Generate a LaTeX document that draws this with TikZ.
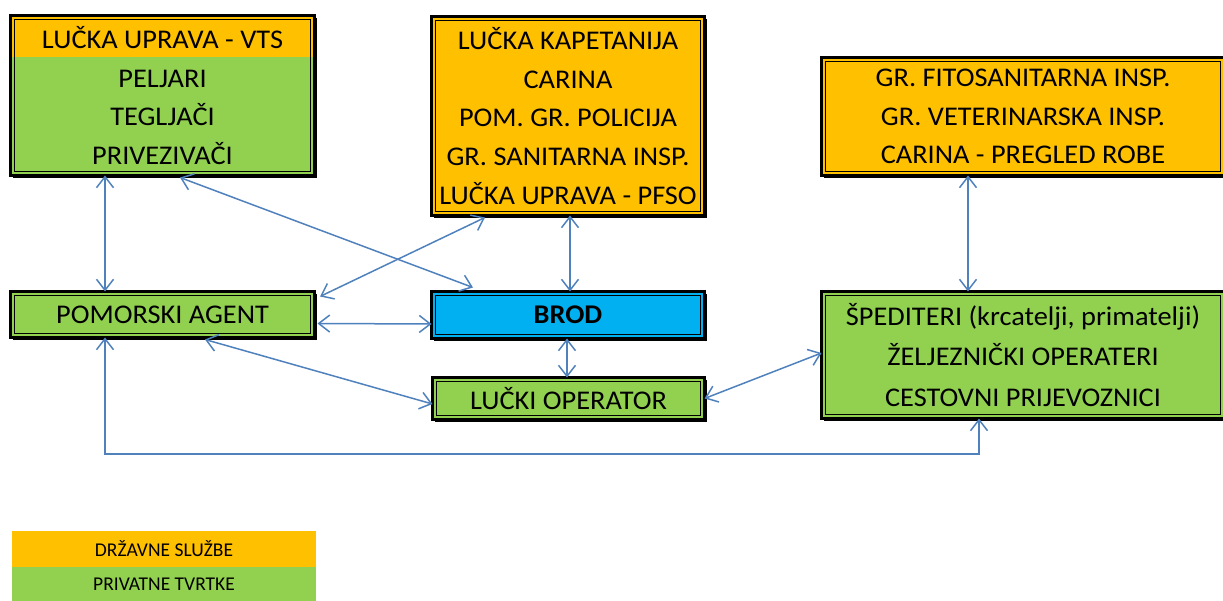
\documentclass[tikz,border=0pt]{standalone}
\usepackage{fontspec}
\setmainfont{Carlito}[FakeStretch=1.05]
\newfontfamily\legendfont{Carlito}
\usetikzlibrary{arrows.meta,shadows}
\definecolor{drzavna}{HTML}{FFC000}
\definecolor{privatna}{HTML}{92D050}
\definecolor{brodplava}{HTML}{00B0F0}
\definecolor{veza}{HTML}{4F81BD}
\begin{document}
\begin{tikzpicture}[x=1pt,y=-1pt,
  box/.style={draw=black, line width=3pt, inner sep=0pt, outer sep=0pt,
    align=center, font=\fontsize{27}{38.6}\selectfont,
    drop shadow={shadow xshift=2.5pt, shadow yshift=-2.5pt, fill=black, opacity=1},
    path picture={\draw[line width=1pt]
      ([shift={(4,4)}]path picture bounding box.north west) rectangle
      ([shift={(-4,-4)}]path picture bounding box.south east);}},
  boxtop/.style={box, path picture={
      \fill[drzavna] (path picture bounding box.north west) rectangle
      ([shift={(0,41.5)}]path picture bounding box.north east);
      \draw[line width=1pt]
      ([shift={(4,4)}]path picture bounding box.north west) rectangle
      ([shift={(-4,-4)}]path picture bounding box.south east);}},
  legend/.style={inner sep=0pt, outer sep=0pt, minimum width=304pt,
    font=\legendfont\fontsize{19.5}{22}\selectfont},
  conn/.style={draw=veza, line width=1.5pt,
    {Straight Barb[length=11pt,width=17pt]}-{Straight Barb[length=11pt,width=17pt]}}
]
\useasboundingbox (0,0) rectangle (1223,601);
\clip (0,0) rectangle (1223,601);

% port services and pilots
\node[boxtop, fill=privatna, minimum width=304pt, minimum height=160pt] (uprava) at (162.5,95.5)
  {LUČKA UPRAVA - VTS\\ PELJARI\\ TEGLJAČI\\ PRIVEZIVAČI};
\node[box, fill=drzavna, minimum width=273pt, minimum height=199pt] (kapetanija) at (568,116)
  {LUČKA KAPETANIJA\\ CARINA\\ POM. GR. POLICIJA\\ GR. SANITARNA INSP.\\ LUČKA UPRAVA - PFSO};
\node[box, fill=drzavna, minimum width=403pt, minimum height=118pt] (inspekcija) at (1023,116.5)
  {GR. FITOSANITARNA INSP.\\ GR. VETERINARSKA INSP.\\ CARINA - PREGLED ROBE};

% middle row
\node[box, fill=privatna, minimum width=304pt, minimum height=46pt] (agent) at (162.5,314.5)
  {\raisebox{-2pt}{POMORSKI AGENT}};
\node[box, fill=brodplava, minimum width=273pt, minimum height=47pt, font=\fontsize{27}{30}\bfseries] (brod) at (568,315)
  {\raisebox{-2.5pt}{BROD}};
\node[box, fill=privatna, minimum width=272pt, minimum height=42pt] (operator) at (568.5,398.5)
  {LUČKI OPERATOR};
\node[box, fill=privatna, minimum width=403pt, minimum height=127pt,
  font=\fontsize{27}{40.5}\selectfont] (spediteri) at (1023,355)
  {ŠPEDITERI (krcatelji, primatelji)\\ ŽELJEZNIČKI OPERATERI\\ CESTOVNI PRIJEVOZNICI};

% connectors
\draw[conn] ([xshift=94.5]uprava.south west) -- ([xshift=94.5]agent.north west);
\draw[conn] ([shift={(169.5,2)}]uprava.south west) -- ([shift={(41.5,-4)}]brod.north west);
\draw[conn] ([shift={(5.5,5)}]agent.north east) -- ([shift={(53.5,2)}]kapetanija.south west);
\draw[conn] ([xshift=138.5]kapetanija.south west) -- ([xshift=138.5]brod.north west);
\draw[conn] ([shift={(3,9)}]agent.east) -- ([shift={(0,9)}]brod.west);
\draw[conn] ([xshift=135.5]brod.south west) -- ([xshift=135.5]brod.south west |- operator.north);
\draw[conn] ([shift={(194.5,2)}]agent.south west) -- ([shift={(0,5.5)}]operator.west);
\draw[conn] (operator.east) -- ([shift={(0,-2)}]spediteri.west);
\draw[conn] ([xshift=146.5]inspekcija.south west) -- ([xshift=146.5]inspekcija.south west |- spediteri.north);
\draw[conn] ([xshift=94.5]agent.south west) -- ++(0,116.5) -| ([xshift=157.5]spediteri.south west);

% legend
\node[legend, fill=drzavna, minimum height=36pt] (legdrz) at (164,549) {DRŽAVNE SLUŽBE};
\node[legend, fill=privatna, minimum height=34pt] (legpriv) at (164,584) {PRIVATNE TVRTKE};
\end{tikzpicture}
\end{document}
